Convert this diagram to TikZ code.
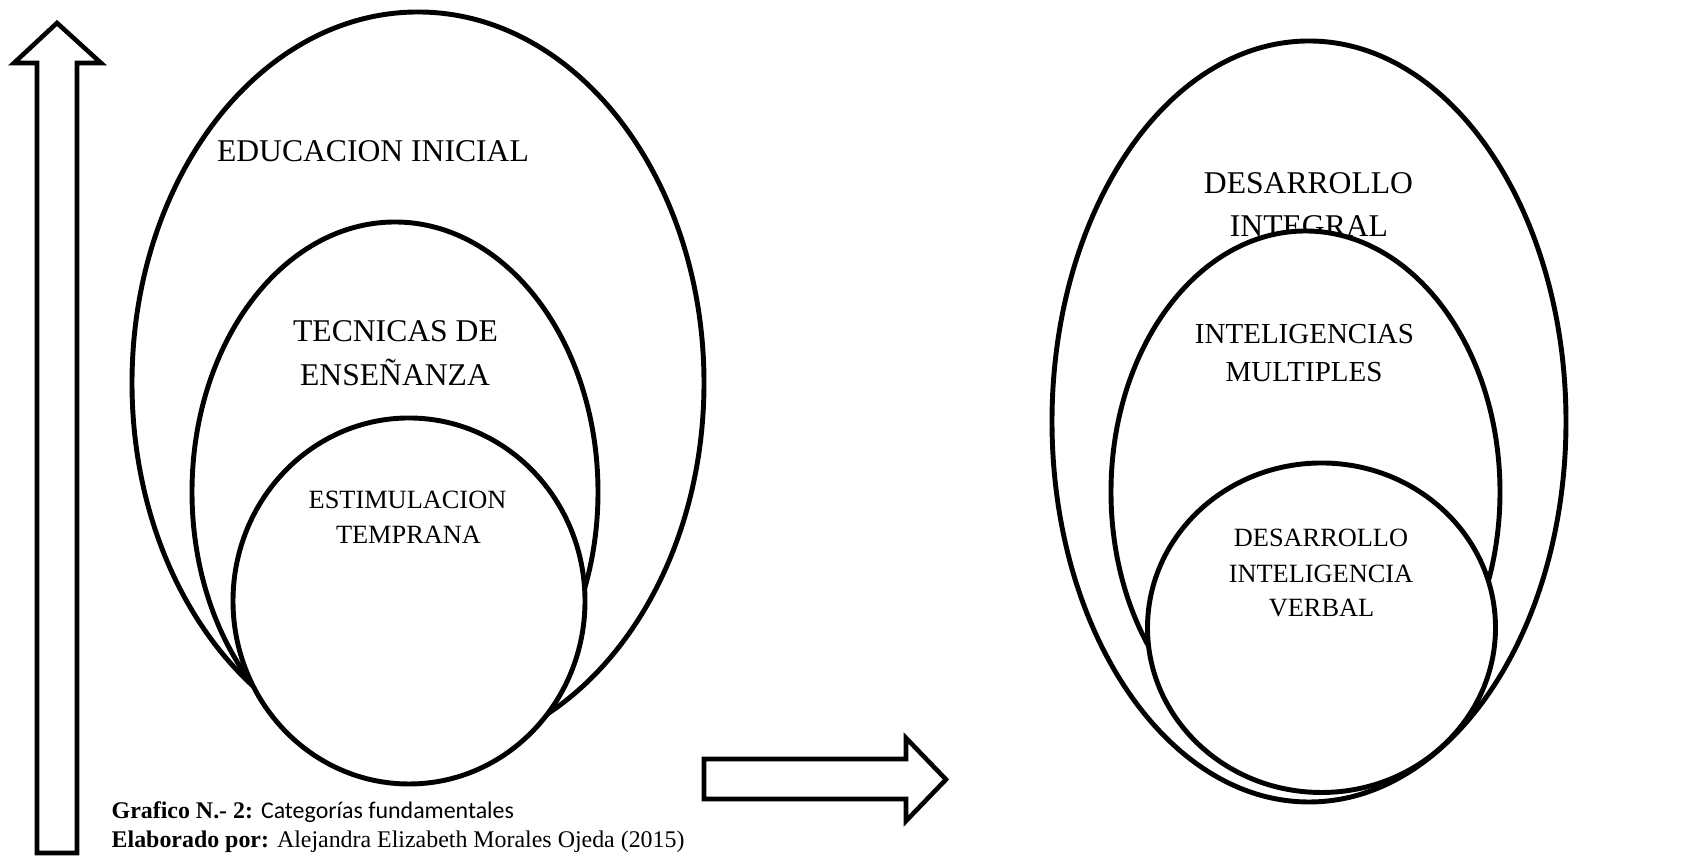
\documentclass[tikz,border=0pt]{standalone}
\usepackage{fontspec}
\setmainfont{Liberation Serif}
\newfontfamily\carlito{Carlito}
\usepackage{tikz}
\usetikzlibrary{positioning}

\begin{document}
\begin{tikzpicture}[scale=1,
    ring/.style={line width=1.4pt, fill=white},
    blockarrow/.style={line width=1.3pt, fill=white},
    lblbig/.style={anchor=base, inner sep=0pt, font=\fontsize{9}{11}\selectfont},
    lblmid/.style={anchor=base, inner sep=0pt, font=\fontsize{8.25}{10}\selectfont},
    lblsmall/.style={anchor=base, inner sep=0pt, font=\fontsize{7.5}{9}\selectfont},
    caption/.style={anchor=base west, inner sep=0pt, font=\fontsize{6.8}{8}\selectfont}]
    \useasboundingbox (0,0) rectangle (16.85,8.58);

    % Up arrow
    \draw [blockarrow] (0.37,0.05) -- (0.37,7.95) -- (0.14,7.95) -- (0.57,8.35)
        -- (1.01,7.95) -- (0.77,7.95) -- (0.77,0.05) -- cycle;

    % Left ellipses
    \draw [ring] (4.18,4.75) ellipse [x radius=2.86, y radius=3.71];
    \node [lblbig] (edu) at (3.73,6.96) {EDUCACION INICIAL};
    \draw [ring] (3.95,3.66) ellipse [x radius=2.03, y radius=2.70];
    \node [lblbig] (tec) at (3.955,5.164) {TECNICAS DE};
    \node [lblbig] (tec2) at (3.95,4.723) {ENSEÑANZA};
    \draw [ring] (4.09,2.57) ellipse [x radius=1.76, y radius=1.83];
    \node [lblsmall] (est) at (4.075,3.49) {ESTIMULACION};
    \node [lblsmall] (est2) at (4.085,3.14) {TEMPRANA};

    % Right arrow
    \draw [blockarrow] (7.04,0.99) -- (9.06,0.99) -- (9.06,1.20) -- (9.46,0.785)
        -- (9.06,0.37) -- (9.06,0.59) -- (7.04,0.59) -- cycle;

    % Right ellipses
    \draw [ring] (13.09,4.365) ellipse [x radius=2.57, y radius=3.805];
    \node [lblbig] (des) at (13.085,6.64) {DESARROLLO};
    \node [lblbig] (des2) at (13.09,6.21) {INTEGRAL};
    \draw [ring] (13.055,3.66) ellipse [x radius=1.945, y radius=2.61];
    \node [lblmid] (int) at (13.045,5.14) {INTELIGENCIAS};
    \node [lblmid] (int2) at (13.04,4.76) {MULTIPLES};
    \draw [ring] (13.215,2.3025) ellipse [x radius=1.74, y radius=1.6475];
    \node [lblsmall] (ver) at (13.21,3.11) {DESARROLLO};
    \node [lblsmall] (ver2) at (13.21,2.75) {INTELIGENCIA};
    \node [lblsmall] (ver3) at (13.215,2.41) {VERBAL};

    % Caption
    \node [caption] (graf) at (1.11,0.39) {\textbf{Grafico N.- 2:} {\carlito Categorías fundamentales}};
    \node [caption] (elab) at (1.11,0.10) {\textbf{Elaborado por:} Alejandra Elizabeth Morales Ojeda (2015)};
\end{tikzpicture}
\end{document}
